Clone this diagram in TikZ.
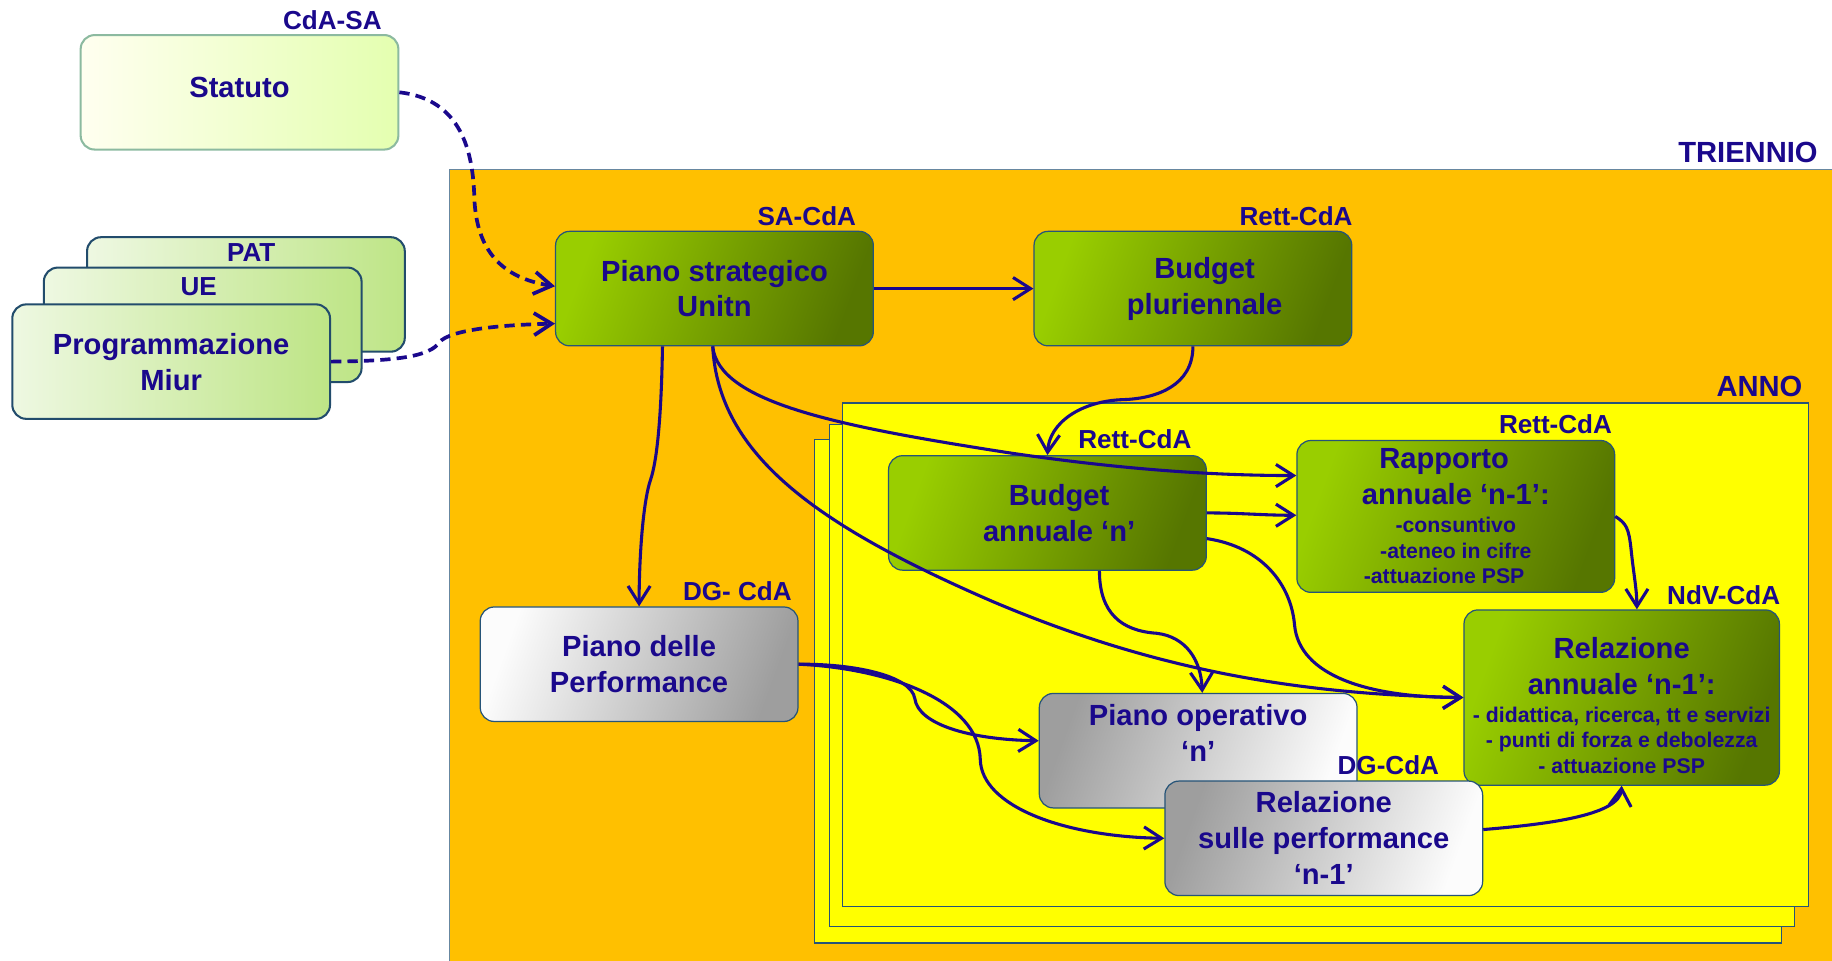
\documentclass[tikz,border=0pt]{standalone}
\usepackage{fontspec}
\setmainfont{Liberation Sans}
\usetikzlibrary{arrows.meta}
\definecolor{navy}{RGB}{26,8,140}
\definecolor{orangebg}{RGB}{255,192,0}
\definecolor{yellowbg}{RGB}{255,255,0}
\definecolor{edge}{RGB}{38,84,120}
\definecolor{greenA}{RGB}{153,206,0}
\definecolor{greenB}{RGB}{86,118,0}
\definecolor{paleA}{RGB}{238,248,226}
\definecolor{paleB}{RGB}{190,229,134}
\definecolor{creamA}{RGB}{255,255,240}
\definecolor{creamB}{RGB}{228,255,176}
\definecolor{creamedge}{RGB}{140,186,160}
\definecolor{greyA}{RGB}{158,158,158}
\definecolor{greyB}{RGB}{252,252,252}
\newcommand\mainsize{\fontsize{14.2}{17.5}\selectfont\bfseries}
\newcommand\tagsize{\fontsize{12.7}{15}\selectfont\bfseries}
\newcommand\bigsize{\fontsize{14.2}{17}\selectfont\bfseries}
\newcommand\subsize{\fontsize{10.35}{12.5}\selectfont\bfseries}
\begin{document}
\begin{tikzpicture}[x=0.02cm, y=-0.02cm,
    every node/.style={text=navy},
    basebox/.style={draw=edge, line width=0.6pt, rounded corners=0.24cm,
      minimum width=5.44cm, minimum height=1.96cm, align=center, font=\mainsize},
    greenbox/.style={basebox, left color=greenA, right color=greenB, shading angle=70},
    greybox/.style={basebox, left color=greyA, right color=greyB, shading angle=70},
    whitebox/.style={basebox, left color=greyB, right color=greyA, shading angle=70},
    palebox/.style={basebox, draw=edge!90!black, line width=1pt, left color=paleA, right color=paleB},
    creambox/.style={basebox, draw=creamedge, line width=1pt, left color=creamA, right color=creamB},
    tagtext/.style={font=\tagsize, inner sep=0pt, anchor=base east},
    bigtext/.style={font=\bigsize, inner sep=0pt, anchor=base east},
    arr/.style={draw=navy, line width=1.5pt, -{Straight Barb[length=0.3cm,width=0.38cm]}},
    darr/.style={arr, line width=1.8pt, dash pattern=on 5pt off 3pt}]
  \useasboundingbox (0,0) rectangle (1568,822);

  \filldraw[fill=orangebg, draw=edge!70, line width=0.5pt] (385,145) rectangle (1620,880);
  \node[bigtext] (triennio) at (1556,139) {TRIENNIO};

  \filldraw[fill=yellowbg, draw=edge, line width=0.6pt] (697,376) rectangle (1525,807);
  \filldraw[fill=yellowbg, draw=edge, line width=0.6pt] (710,363) rectangle (1536,793);
  \filldraw[fill=yellowbg, draw=edge, line width=0.6pt] (721,345) rectangle (1548,776);
  \node[bigtext] (anno) at (1543,339) {ANNO};

  \node[creambox] (statuto) at (205,79) {Statuto\\[-13pt]\mbox{}};
  \node[tagtext] (statutotag) at (327,25.5) {CdA-SA};

  \node[palebox] (pat) at (210.5,252) {};
  \node[tagtext, anchor=center] (pattag) at (215,216) {PAT};
  \node[palebox] (ue) at (173.5,278) {};
  \node[tagtext, anchor=center] (uetag) at (170,245) {UE};
  \node[palebox] (miur) at (146.5,309.5) {Programmazione\\Miur};

  \node[greenbox] (pianostrat) at (611.5,247) {Piano strategico\\Unitn};
  \node[tagtext] (pianostrattag) at (733,193) {SA-CdA};

  \node[greenbox] (budgetpl) at (1021,247) {\hspace*{0.4cm}Budget\\\hspace*{0.4cm}pluriennale};
  \node[tagtext] (budgetpltag) at (1158,193) {Rett-CdA};

  \node[greenbox] (budgetann) at (896.5,439) {\hspace*{0.4cm}Budget\\\hspace*{0.4cm}annuale ‘n’};
  \node[tagtext] (budgetanntag) at (1020,384) {Rett-CdA};

  \node[greenbox, minimum height=2.6cm] (rapporto) at (1246,442)
    {Rapporto\hspace*{0.4cm}\\annuale ‘n-1’:\hspace*{0.4cm}\\[-4pt]{\subsize -consuntivo\hspace*{0.4cm}}\\[-5pt]{\subsize -ateneo in cifre\hspace*{0.4cm}}\\[-5pt]{\subsize -attuazione PSP\hspace*{0.4cm}}};
  \node[tagtext] (rapportotag) at (1380,371) {Rett-CdA};

  \node[greenbox, minimum height=3cm, minimum width=5.4cm] (relann) at (1388,597)
    {\rule{0pt}{18pt}Relazione\\annuale ‘n-1’:\\[-4pt]{\subsize - didattica, ricerca, tt e servizi}\\[-5pt]{\subsize - punti di forza e debolezza}\\[-5pt]{\subsize - attuazione PSP}};
  \node[tagtext] (relanntag) at (1524,517) {NdV-CdA};

  \node[whitebox] (pianoperf) at (547,568.5) {Piano delle\\Performance};
  \node[tagtext] (pianoperftag) at (678,514) {DG- CdA};

  \node[greybox] (pianoop) at (1025.5,642.5) {Piano operativo\\‘n’\\\mbox{}};
  \node[greybox] (relperf) at (1133,717.5) {Relazione\\sulle performance\\‘n-1’};
  \node[tagtext] (relperftag) at (1232,663) {DG-CdA};

  \draw[darr] (statuto.east) .. controls (395,85) and (405,130) .. (406,170)
    .. controls (408,215) and (430,238) .. ([yshift=0.04cm]pianostrat.west);
  \draw[darr] (miur.east) .. controls (340,309) and (368,305) .. (376,293)
    .. controls (385,282) and (430,278) .. ([yshift=-0.6cm]pianostrat.west);

  \draw[arr] (pianostrat.east) to[out=0,in=180] (budgetpl.west);
  \draw[arr] (budgetpl.south) .. controls (1021,330) and (990,341) .. (962,342)
    .. controls (925,343) and (898,362) .. (budgetann.north);
  \draw[arr] ([xshift=-0.89cm]pianostrat.south) .. controls (566,360) and (562,395) .. (557,410)
    .. controls (550,430) and (547,480) .. (pianoperf.north);
  \draw[arr] ([xshift=-0.03cm]pianostrat.south) .. controls (615,345) and (720,365) .. (860,387)
    .. controls (960,402) and (1040,407) .. ([yshift=0.7cm]rapporto.west);
  \draw[arr] ([xshift=-0.03cm]pianostrat.south) .. controls (615,390) and (700,450) .. (850,515)
    .. controls (980,570) and (1100,594) .. (relann.west);

  \draw[arr] (budgetann.east) to[out=0,in=180] ([yshift=0.02cm]rapporto.west);
  \draw[arr] ([yshift=-0.44cm]budgetann.east) .. controls (1080,468) and (1105,500) .. (1108,535)
    .. controls (1112,578) and (1170,597) .. (relann.west);
  \draw[arr] ([xshift=0.89cm]budgetann.south) .. controls (941,525) and (960,540) .. (990,542)
    .. controls (1015,545) and (1028,565) .. ([xshift=0.07cm]pianoop.north);
  \draw[arr] (rapporto.east) .. controls (1392,448) and (1394,452) .. (1396,470)
    .. controls (1398,490) and (1401,505) .. ([xshift=0.26cm]relann.north);

  \draw[arr] (pianoperf.east) .. controls (730,568) and (780,578) .. (783,598)
    .. controls (786,620) and (830,633) .. ([yshift=0.17cm]pianoop.west);
  \draw[arr] (pianoperf.east) .. controls (760,572) and (838,600) .. (839,650)
    .. controls (840,690) and (910,716) .. (relperf.west);
  \draw[arr] ([yshift=0.15cm]relperf.east) .. controls (1330,705) and (1386,697) .. (relann.south);
\end{tikzpicture}
\end{document}
